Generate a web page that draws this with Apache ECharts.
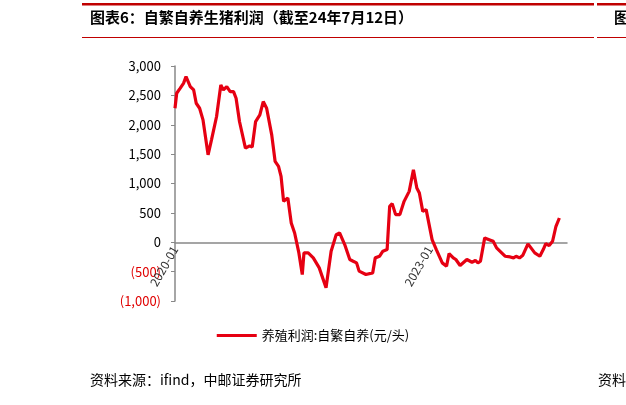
<!DOCTYPE html><html><head><meta charset="utf-8"><script src="https://cdn.jsdelivr.net/npm/echarts@6/dist/echarts.min.js"></script>
<style>body{margin:0}#c{width:626px;height:405px}</style></head><body><div id="c"></div><script>
const years=[2020.0,2020.02,2020.06,2020.1,2020.13,2020.18,2020.22,2020.25,2020.29,2020.33,2020.39,2020.43,2020.49,2020.54,2020.57,2020.61,2020.65,2020.69,2020.72,2020.76,2020.83,2020.88,2020.91,2020.95,2021.0,2021.04,2021.08,2021.14,2021.18,2021.22,2021.25,2021.28,2021.33,2021.37,2021.41,2021.46,2021.5,2021.52,2021.57,2021.63,2021.7,2021.78,2021.84,2021.9,2021.94,2022.0,2022.06,2022.1,2022.14,2022.17,2022.25,2022.33,2022.36,2022.41,2022.45,2022.5,2022.53,2022.56,2022.6,2022.65,2022.7,2022.73,2022.76,2022.81,2022.85,2022.88,2022.92,2022.96,2023.03,2023.08,2023.15,2023.2,2023.23,2023.28,2023.31,2023.36,2023.44,2023.5,2023.54,2023.57,2023.6,2023.65,2023.71,2023.75,2023.79,2023.85,2023.89,2023.95,2023.99,2024.02,2024.06,2024.1,2024.16,2024.24,2024.3,2024.34,2024.37,2024.41,2024.45,2024.49,2024.53];
const profit=[2281,2536,2620,2705,2819,2649,2592,2366,2281,2083,1489,1743,2140,2677,2592,2649,2564,2564,2451,2055,1602,1641,1620,2055,2168,2394,2281,1828,1375,1290,1121,696,753,328,158,-181,-549,-181,-181,-266,-436,-775,-153,130,158,-40,-294,-323,-351,-492,-549,-521,-266,-240,-153,-125,611,657,470,470,696,781,866,1234,923,838,526,555,45,-125,-351,-408,-192,-266,-294,-396,-294,-340,-310,-351,-323,74,40,17,-96,-181,-238,-250,-266,-238,-266,-220,-28,-181,-238,-125,-23,-57,17,272,413,289,396];
const yTicks=[-1000,-500,0,500,1000,1500,2000,2500,3000];
const legendName='养殖利润:自繁自养(元/头)';
const ch=echarts.init(document.getElementById('c'));
const fmt=v=>Math.abs(v).toLocaleString('en-US');
ch.setOption({
animation:false,
textStyle:{fontFamily:'Noto Sans CJK SC'},
graphic:[
{type:'rect',shape:{x:82,y:3,width:512,height:2.5},style:{fill:'#c00000'}},
{type:'rect',shape:{x:597,y:3,width:29,height:2.5},style:{fill:'#c00000'}},
{type:'rect',shape:{x:82,y:37,width:512,height:1},style:{fill:'#c00000'}},
{type:'rect',shape:{x:597,y:37,width:29,height:1},style:{fill:'#c00000'}},
{type:'text',left:90,top:10,style:{text:'图表6：自繁自养生猪利润（截至24年7月12日）',font:'bold 15px "Noto Sans CJK SC"',fill:'#000'}},
{type:'text',left:614,top:10,style:{text:'图',font:'bold 15px "Noto Sans CJK SC"',fill:'#000'}},
{type:'text',left:90,top:373,style:{text:'资料来源：ifind，中邮证券研究所',font:'14px "Noto Sans CJK SC"',fill:'#000'}},
{type:'text',left:598,top:373,style:{text:'资料',font:'14px "Noto Sans CJK SC"',fill:'#000'}}
],
legend:{bottom:58,left:'center',itemWidth:40,itemHeight:3,icon:'rect',textStyle:{fontSize:13,color:'#000'},data:[legendName]},
grid:{left:175,right:59,top:66,bottom:104},
xAxis:{type:'value',min:2020,max:2024.62,interval:3,splitLine:{show:false},
 axisLine:{onZero:true,lineStyle:{color:'#888',width:1.5}},axisTick:{show:false},
 axisLabel:{rotate:60,showMaxLabel:false,formatter:v=>v+'-01',fontSize:12,color:'#333',margin:-54}},
yAxis:{type:'value',min:-1000,max:3000,interval:500,splitLine:{show:false},
 axisLine:{show:true,lineStyle:{color:'#888',width:1.5}},axisTick:{show:true,lineStyle:{color:'#888'},length:4},
 axisLabel:{fontSize:13,margin:14,formatter:v=>v<0?'{n|('+fmt(v)+')}':'{p|'+fmt(v)+'}',rich:{n:{color:'#e00000',fontSize:13},p:{color:'#000',fontSize:13}}}},
series:[{name:legendName,type:'line',symbol:'none',data:years.map((y,i)=>[y,profit[i]]),lineStyle:{color:'#e60012',width:3.2},itemStyle:{color:'#e60012'}}]
});
</script></body></html>
